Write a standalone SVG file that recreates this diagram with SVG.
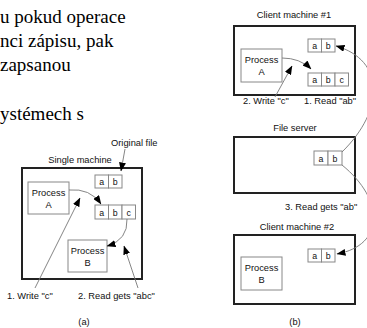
<svg xmlns="http://www.w3.org/2000/svg" width="367" height="328" viewBox="0 0 367 328">
<defs>
<style>
.body{font-family:"Liberation Serif","Times New Roman",serif;font-size:19px;fill:#000}
.lbl{font-family:"Liberation Sans",Arial,sans-serif;font-size:9.3px;fill:#111}
.cell{font-family:"Liberation Sans",Arial,sans-serif;font-size:8.8px;fill:#111;text-anchor:middle}
.mach{fill:#fff;stroke:#222;stroke-width:2}
.proc{fill:#fff;stroke:#888;stroke-width:1}
.cb{fill:#fff;stroke:#888;stroke-width:1}
.conn{fill:none;stroke:#777;stroke-width:0.9}
.mid{text-anchor:middle}
</style>
<marker id="ah" markerWidth="9" markerHeight="7" refX="8.5" refY="3.5" orient="auto" markerUnits="userSpaceOnUse">
<path d="M0,0 L9,3.5 L0,7 Z" fill="#000"/>
</marker>
</defs>

<g id="bodytext">
<text class="body" x="0" y="23">u pokud operace</text>
<text class="body" x="0" y="47">nci zápisu, pak</text>
<text class="body" x="0" y="71">zapsanou</text>
<text class="body" x="0" y="120">ystémech s</text>
</g>

<!-- Panel (a) -->
<g id="single-machine">
<rect class="mach" x="22" y="168" width="120" height="111"/>
<text class="lbl mid" x="80" y="163">Single machine</text>
</g>
<g id="original-file-label">
<text class="lbl" x="111" y="146">Original file</text>
</g>
<g id="a-file-ab">
<rect class="cb" x="95" y="175" width="13.5" height="13"/>
<rect class="cb" x="108.5" y="175" width="13.5" height="13"/>
<text class="cell" x="101.7" y="185">a</text>
<text class="cell" x="115.2" y="185">b</text>
</g>
<g id="a-file-abc">
<rect class="cb" x="95" y="205" width="13.5" height="14"/>
<rect class="cb" x="108.5" y="205" width="13.5" height="14"/>
<rect class="cb" x="122" y="205" width="13.5" height="14"/>
<text class="cell" x="101.7" y="215.5">a</text>
<text class="cell" x="115.2" y="215.5">b</text>
<text class="cell" x="128.7" y="215.5">c</text>
</g>
<g id="a-process-a">
<rect class="proc" x="28" y="182" width="41" height="32"/>
<text class="lbl mid" x="48.5" y="196">Process</text>
<text class="lbl mid" x="48.5" y="208">A</text>
</g>
<g id="a-process-b">
<rect class="proc" x="68" y="240" width="39" height="32"/>
<text class="lbl mid" x="87.5" y="254">Process</text>
<text class="lbl mid" x="87.5" y="266">B</text>
</g>
<g id="a-labels">
<text class="lbl" x="7" y="299">1. Write "c"</text>
<text class="lbl" x="78" y="299">2. Read gets "abc"</text>
<text class="lbl mid" x="84" y="325">(a)</text>
</g>

<!-- Panel (b) -->
<g id="client1">
<rect class="mach" x="234" y="26" width="121" height="69"/>
<text class="lbl mid" x="294" y="18">Client machine #1</text>
</g>
<g id="c1-file-ab">
<rect class="cb" x="308" y="39" width="13.5" height="13"/>
<rect class="cb" x="321.5" y="39" width="13.5" height="13"/>
<text class="cell" x="314.7" y="49">a</text>
<text class="cell" x="328.2" y="49">b</text>
</g>
<g id="c1-file-abc">
<rect class="cb" x="308" y="73" width="13.5" height="13"/>
<rect class="cb" x="321.5" y="73" width="13.5" height="13"/>
<rect class="cb" x="335" y="73" width="13.5" height="13"/>
<text class="cell" x="314.7" y="83">a</text>
<text class="cell" x="328.2" y="83">b</text>
<text class="cell" x="341.7" y="83">c</text>
</g>
<g id="c1-process-a">
<rect class="proc" x="241" y="49" width="41" height="33"/>
<text class="lbl mid" x="261.5" y="63">Process</text>
<text class="lbl mid" x="261.5" y="75">A</text>
</g>
<g id="fileserver">
<rect class="mach" x="234" y="137" width="121" height="56"/>
<text class="lbl mid" x="295" y="131">File server</text>
</g>
<g id="fs-file-ab">
<rect class="cb" x="314" y="151" width="14" height="14"/>
<rect class="cb" x="328" y="151" width="14" height="14"/>
<text class="cell" x="321" y="161.5">a</text>
<text class="cell" x="335" y="161.5">b</text>
</g>
<g id="client2">
<rect class="mach" x="234" y="235" width="121" height="69"/>
<text class="lbl mid" x="297" y="230">Client machine #2</text>
</g>
<g id="c2-file-ab">
<rect class="cb" x="308" y="249" width="13.5" height="13"/>
<rect class="cb" x="321.5" y="249" width="13.5" height="13"/>
<text class="cell" x="314.7" y="259">a</text>
<text class="cell" x="328.2" y="259">b</text>
</g>
<g id="c2-process-b">
<rect class="proc" x="241" y="257" width="41" height="33"/>
<text class="lbl mid" x="261.5" y="271">Process</text>
<text class="lbl mid" x="261.5" y="283">B</text>
</g>
<g id="b-labels">
<text class="lbl" x="243" y="104">2. Write "c"</text>
<text class="lbl" x="304" y="104">1. Read "ab"</text>
<text class="lbl" x="285" y="210">3. Read gets "ab"</text>
<text class="lbl mid" x="295" y="325">(b)</text>
</g>

<g id="connectors">
<path class="conn" d="M125,149 L121,171" marker-end="url(#ah)"/>
<path class="conn" d="M69,190 Q90,188 101,204" marker-end="url(#ah)"/>
<path class="conn" d="M127,219 Q128,240 107,246" marker-end="url(#ah)"/>
<path class="conn" d="M35,288 L80,198" marker-end="url(#ah)"/>
<path class="conn" d="M138,288 L124,246" marker-end="url(#ah)"/>
<path class="conn" d="M282,58 Q300,58 311,69" marker-end="url(#ah)"/>
<path class="conn" d="M275,97 L292,66" marker-end="url(#ah)"/>
<path class="conn" d="M342,152 C385,110 385,60 336,46" marker-end="url(#ah)"/>
<path class="conn" d="M342,165 C385,200 385,245 337,254" marker-end="url(#ah)"/>
</g>
</svg>
